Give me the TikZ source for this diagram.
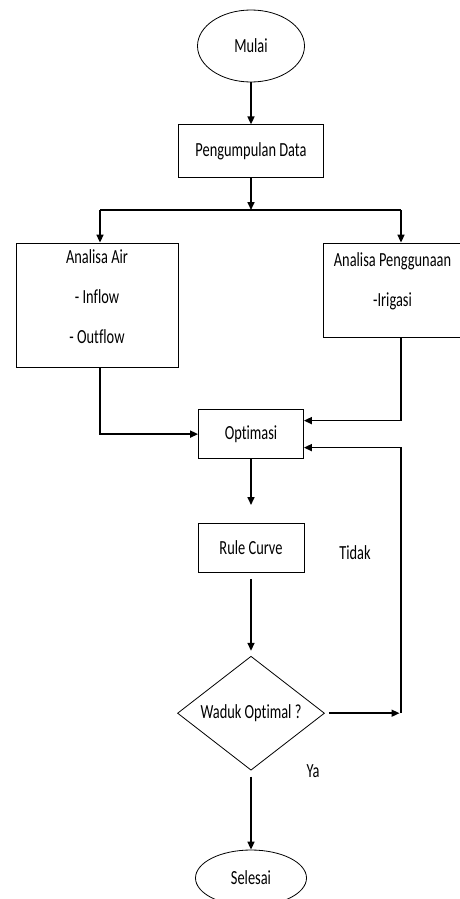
\documentclass[tikz,border=0pt]{standalone}
\usepackage{fontspec}
\setmainfont{Carlito}[FakeStretch=0.72, Ligatures=NoCommon]
\usetikzlibrary{arrows.meta,positioning,shapes.geometric}
\tikzset{
	kotak/.style = {draw, rectangle, inner sep = 0pt, line width = 0.8pt},
	lonjong/.style = {draw, ellipse, inner sep = 0pt, line width = 0.8pt},
	belah/.style = {draw, diamond, aspect = 1.3, inner sep = 0pt, line width = 0.8pt},
	panah/.style = {-{Triangle[length=8pt,width=7pt]}, line width = 1.6pt},
	tebal/.style = {line width = 2.8pt}
}

\begin{document}
\begin{tikzpicture}[x=1pt, y=-1pt, font=\fontsize{20}{40}\selectfont]
	\useasboundingbox (0,0) rectangle (460,899);
	\node (mulai) [lonjong, minimum width = 107pt, minimum height = 72pt] at (251,46) {Mulai};
	\node (kumpul) [kotak, minimum width = 145pt, minimum height = 53pt, below = 42pt of mulai] {Pengumpulan Data};
	\node (air) [kotak, minimum width = 162pt, minimum height = 124pt, align = center, text depth = 16pt] at (97,305)
		{Analisa Air\\- Inflow\\- Outflow};
	\node (guna) [kotak, minimum width = 139pt, minimum height = 94pt, align = center, text depth = 21pt] at (392.5,290)
		{Analisa Penggunaan\\-Irigasi};
	\node (opt) [kotak, minimum width = 105pt, minimum height = 49pt, below = 231pt of kumpul] {Optimasi};
	\node (rule) [kotak, minimum width = 106pt, minimum height = 49pt, below = 64pt of opt] {Rule Curve};
	\node (cek) [belah, minimum width = 147pt, minimum height = 114pt, below = 83pt of rule] {Waduk Optimal ?};
	\node (selesai) [lonjong, minimum width = 111pt, minimum height = 56pt, below = 79pt of cek] {Selesai};
	\node (tidak) at (355,553) {Tidak};
	\node (ya) at (313,771) {Ya};

	\coordinate (bagi) at (251,210);
	\coordinate (kiri) at (100,210);
	\coordinate (kanan) at (401,210);
	\draw [panah] (kumpul) -- (bagi);
	\draw [tebal] (kiri) -- (kanan);
	\draw [panah] (kiri) -- (kiri |- air.north);
	\draw [panah] (kanan) -- (kanan |- guna.north);
	\draw [tebal, panah] (kiri |- air.south) |- (opt.west);
	\draw [tebal, panah] (kanan |- guna.south) |- ([yshift=13.5pt]opt.east);

	\draw [panah] (mulai) -- (kumpul);
	\draw [panah, shorten >= 18pt] (opt) -- (rule);
	\draw [panah, shorten <= 6pt, shorten >= 5pt] (rule) -- (cek);
	\draw [panah, shorten <= 6pt] (cek) -- (selesai);
	% jalur balik ke optimasi
	\draw [tebal, panah, shorten <= 4pt, shorten >= 1.5pt] (cek.east) -- (cek.east -| kanan);
	\draw [tebal, panah] (cek.east -| kanan) |- ([yshift=-13.5pt]opt.east);
\end{tikzpicture}
\end{document}
